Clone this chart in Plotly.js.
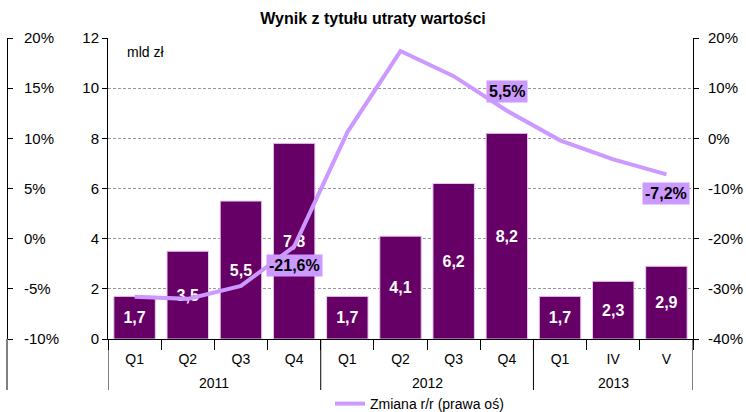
<!DOCTYPE html>
<html>
<head>
<meta charset="utf-8">
<script src="https://cdn.plot.ly/plotly-3.0.1.min.js"></script>
<style>html,body{margin:0;padding:0;background:#fff;}#chart{width:746px;height:412px;}</style>
</head>
<body>
<div id="chart"></div>
<script>
// Data
const years    = ['2011','2011','2011','2011','2012','2012','2012','2012','2013','2013','2013'];
const quarters = ['Q1','Q2','Q3','Q4','Q1','Q2','Q3','Q4','Q1','IV','V'];
const barValues  = [1.7, 3.5, 5.5, 7.8, 1.7, 4.1, 6.2, 8.2, 1.7, 2.3, 2.9];
const lineValues = [-31.6, -32.0, -29.4, -21.6, 1.2, 17.4, 12.4, 5.5, -0.4, -4.2, -7.2];
const lineLabelShown = [0,0,0,1,0,0,0,1,0,0,1];
const lineLabelBelow = [0,0,0,1,0,0,0,0,0,0,1];
const leftTicks = [0, 2, 4, 6, 8, 10, 12];
const rightTicks = [-40, -30, -20, -10, 0, 10, 20];
const farLeftTicks = [-10, -5, 0, 5, 10, 15, 20];

const fmt = (v, d) => v.toFixed(d).replace('.', ',');
const FONT = 'Liberation Sans, Arial, sans-serif';
const idx = quarters.map((_, i) => i);
const boundaries = idx.map(i => i - 0.5).concat([quarters.length - 0.5]);

// year groups
const groups = [];
years.forEach((y, i) => {
  if (!groups.length || groups[groups.length - 1].name !== y) groups.push({name: y, start: i, end: i});
  else groups[groups.length - 1].end = i;
});

const bars = {
  type: 'bar',
  x: idx,
  y: barValues,
  yaxis: 'y',
  width: 0.78,
  marker: {color: '#660066', line: {color: '#e6ccee', width: 1}},
  text: barValues.map(v => fmt(v, 1)),
  textposition: 'inside',
  insidetextanchor: 'middle',
  textangle: 0,
  constraintext: 'none',
  textfont: {family: FONT, size: 16, color: '#ffffff', weight: 'bold'},
  showlegend: false,
  hoverinfo: 'skip'
};

const line = {
  type: 'scatter',
  mode: 'lines',
  x: idx,
  y: lineValues,
  yaxis: 'y2',
  name: 'Zmiana r/r (prawa oś)',
  line: {color: '#cc99ff', width: 4},
  hoverinfo: 'skip'
};

const dummy = {
  type: 'scatter', mode: 'lines', x: idx, y: idx.map(() => null),
  yaxis: 'y3', showlegend: false, hoverinfo: 'skip'
};

const annotations = [];
lineValues.forEach((v, i) => {
  if (!lineLabelShown[i]) return;
  annotations.push({
    x: i, y: v, xref: 'x', yref: 'y2',
    text: fmt(v, 1) + '%',
    showarrow: false,
    yshift: lineLabelBelow[i] ? -19 : 19,
    bgcolor: '#cc99ff',
    borderpad: 2,
    font: {family: FONT, size: 16, color: '#000', weight: 'bold'}
  });
});
groups.forEach(g => {
  annotations.push({
    x: (g.start + g.end) / 2, xref: 'x', y: -44/301, yref: 'paper',
    yanchor: 'middle', showarrow: false, text: g.name,
    font: {family: FONT, size: 14, color: '#000'}
  });
});
annotations.push({
  xref: 'x domain', yref: 'y domain', x: 0.029, y: 0.953,
  xanchor: 'left', yanchor: 'middle', showarrow: false,
  text: 'mld zł', font: {family: FONT, size: 14, color: '#000'}
});

const shapes = [{
  type: 'line', xref: 'paper', yref: 'paper', x0: 0, x1: 0, y0: -51/301, y1: 0,
  line: {color: '#000', width: 1}
}];
groups.forEach((g, k) => {
  const xs = k === 0 ? [g.start - 0.5, g.end + 0.5] : [g.end + 0.5];
  xs.forEach(xv => shapes.push({
    type: 'line', xref: 'x', yref: 'paper', x0: xv, x1: xv, y0: -51/301, y1: 0,
    line: {color: '#000', width: 1}
  }));
});

const layout = {
  width: 746, height: 412,
  margin: {l: 7, r: 53, t: 38, b: 73},
  paper_bgcolor: '#fff', plot_bgcolor: '#fff',
  font: {family: FONT, size: 14, color: '#000'},
  title: {
    text: '<b>Wynik z tytułu utraty wartości</b>',
    xref: 'container', x: 0.5, xanchor: 'center',
    yref: 'container', y: 1 - 18/412, yanchor: 'middle',
    font: {family: FONT, size: 16, color: '#000'}
  },
  xaxis: {
    domain: [101/686, 1],
    range: [-0.5, quarters.length - 0.5],
    tickvals: idx, ticktext: quarters,
    ticks: '', ticklabelstandoff: 7,
    minor: {tickvals: boundaries, ticks: 'outside', ticklen: 10, tickcolor: '#000', showgrid: false},
    showline: true, linecolor: '#000', linewidth: 1,
    tickfont: {family: FONT, size: 14, color: '#000'},
    showgrid: false, zeroline: false
  },
  yaxis: {
    range: [0, 12], tickvals: leftTicks, ticktext: leftTicks.map(String),
    showline: true, linecolor: '#000', linewidth: 1,
    ticks: 'outside', ticklen: 5, tickcolor: '#000',
    showgrid: true, gridcolor: '#999', griddash: '3px,2px', gridwidth: 1,
    zeroline: false,
    tickfont: {family: FONT, size: 15, color: '#000'}
  },
  yaxis2: {
    overlaying: 'y', side: 'right', anchor: 'x',
    range: [-40, 20], tickvals: rightTicks, ticktext: rightTicks.map(v => v + '%'),
    showline: true, linecolor: '#000', linewidth: 1,
    ticks: 'outside', ticklen: 5, tickcolor: '#000',
    showgrid: false, zeroline: false,
    ticklabelstandoff: 6,
    tickfont: {family: FONT, size: 15, color: '#000'}
  },
  yaxis3: {
    overlaying: 'y', side: 'right', anchor: 'free', position: 0,
    range: [-10, 20], tickvals: farLeftTicks, ticktext: farLeftTicks.map(v => v + '%'),
    showline: true, linecolor: '#000', linewidth: 1,
    ticks: 'outside', ticklen: 5, tickcolor: '#000',
    showgrid: false, zeroline: false,
    ticklabelstandoff: 8,
    tickfont: {family: FONT, size: 15, color: '#000'}
  },
  shapes: shapes,
  legend: {
    orientation: 'h', xref: 'container', x: 330/746, xanchor: 'left',
    yref: 'container', y: 1 - 404/412, yanchor: 'middle',
    font: {family: FONT, size: 14, color: '#000'}, itemwidth: 30,
    bgcolor: 'rgba(0,0,0,0)'
  },
  annotations: annotations
};

Plotly.newPlot('chart', [bars, line, dummy], layout, {staticPlot: true, displayModeBar: false});
</script>
</body>
</html>
